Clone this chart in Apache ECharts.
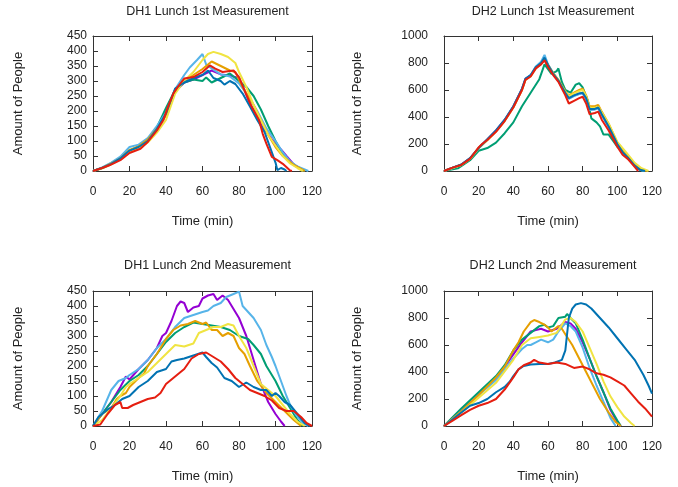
<!DOCTYPE html>
<html>
<head>
<meta charset="utf-8">
<script src="https://cdn.jsdelivr.net/npm/echarts@6/dist/echarts.min.js"></script>
<style>
  html, body { margin: 0; padding: 0; background: #fff; }
  #chart { width: 678px; height: 487px; }
</style>
</head>
<body>
<div id="chart"></div>
<script>
// 4 panels: DH1/DH2 lunch, 1st/2nd measurement. each series = [time (min), people]
const titles = ['DH1 Lunch 1st Measurement', 'DH2 Lunch 1st Measurement',
                'DH1 Lunch 2nd Measurement', 'DH2 Lunch 2nd Measurement'];
const xTicks = [0, 20, 40, 60, 80, 100, 120];
const yMaxes = [450, 1000, 450, 1000];
const yIntervals = [50, 200, 50, 200];

// gnuplot-ish palette, drawing order
const seriesNames = ['purple', 'green', 'lightblue', 'orange', 'yellow', 'darkblue', 'red'];
const colors = ['#9400D3', '#009E73', '#56B4E9', '#E69F00', '#F0E442', '#0072B2', '#E51E10'];

// --- DH1 Lunch 1st ---
const dh1a_purple = [[0,0],[5,10],[10,25],[15,42],[20,65],[25,80],[30,102],[35,140],[40,188],[45,265],[50,295],[55,305],[60,320],[65,335],[70,322],[75,318],[80,310],[83,270],[86,225],[90,180],[95,130],[100,90],[103,72],[106,50],[110,22],[114,6],[116,0]];
const dh1a_green = [[0,0],[5,10],[10,26],[15,44],[20,68],[25,82],[30,104],[35,145],[40,210],[45,270],[50,295],[55,305],[60,300],[62,312],[65,295],[70,310],[75,325],[80,300],[84,280],[88,250],[92,205],[96,150],[100,100],[104,55],[108,30],[114,5],[116,0]];
const dh1a_lightblue = [[0,0],[5,12],[10,28],[15,48],[20,80],[25,88],[30,110],[35,150],[40,195],[45,272],[50,320],[53,345],[57,370],[60,390],[62,355],[65,342],[70,322],[75,315],[80,292],[85,250],[90,200],[95,142],[100,100],[104,62],[108,32],[112,15],[118,0]];
const dh1a_orange = [[0,0],[5,10],[10,25],[15,42],[20,70],[25,82],[30,105],[35,140],[40,185],[45,268],[50,300],[55,320],[60,340],[65,365],[70,350],[75,335],[78,330],[82,280],[88,220],[92,170],[96,120],[100,80],[104,50],[110,20],[116,0]];
const dh1a_yellow = [[0,0],[5,8],[10,22],[15,40],[20,62],[25,75],[30,95],[35,128],[40,170],[45,258],[50,300],[55,330],[60,370],[63,390],[66,397],[70,390],[74,380],[78,360],[80,330],[84,280],[88,220],[92,170],[96,120],[100,85],[104,50],[108,25],[112,10],[115,0]];
const dh1a_darkblue = [[0,0],[5,10],[10,24],[15,42],[20,68],[25,80],[30,100],[35,140],[40,192],[45,275],[50,295],[55,310],[60,320],[63,335],[66,310],[70,300],[72,288],[75,300],[78,290],[82,258],[86,215],[90,170],[94,130],[98,62],[100,28],[101,3],[103,10],[105,5],[106,0]];
const dh1a_red = [[0,0],[5,10],[9,19],[15,36],[20,60],[26,74],[30,97],[35,135],[38.5,169],[41,213],[44,258],[47,285],[50,308],[55,313],[60,330],[64,352],[67,341],[71,330],[77,335],[80,313],[83,269],[87,213],[91,169],[93,124],[95,91],[98,47],[101,36],[104,24],[108,2],[109,0]];

// --- DH2 Lunch 1st ---
const dh2a_purple = [[0,0],[5,24],[10,47],[15,94],[20,170],[25,234],[30,300],[35,378],[40,478],[45,608],[47,682],[50,708],[53,768],[56,798],[58,835],[60,782],[63,718],[66,668],[70,578],[72,538],[75,558],[78,572],[80,578],[82,538],[84,458],[87,458],[89,468],[91,418],[95,328],[100,198],[103,138],[106,98],[110,40],[113,10],[116,0]];
const dh2a_green = [[0,0],[8,20],[15,80],[20,150],[25,170],[30,210],[35,280],[40,360],[45,480],[50,580],[55,680],[58,790],[62,720],[65,740],[66,760],[68,660],[70,600],[73,580],[76,640],[78,650],[80,620],[83,520],[85,390],[88,360],[90,330],[92,270],[95,270],[100,180],[105,120],[110,50],[113,10],[115,0]];
const dh2a_lightblue = [[0,0],[5,22],[10,46],[15,92],[20,168],[25,232],[30,298],[35,375],[40,475],[45,605],[47,680],[50,710],[53,775],[56,810],[58,860],[60,790],[63,725],[66,670],[70,575],[72,535],[75,555],[78,570],[80,575],[82,530],[84,450],[87,455],[89,465],[91,415],[95,325],[100,195],[103,135],[106,100],[110,40],[114,5],[116,0]];
const dh2a_orange = [[0,0],[5,24],[10,46],[15,92],[20,172],[25,232],[30,296],[35,374],[40,474],[45,602],[47,678],[50,705],[53,765],[56,795],[58,830],[60,785],[63,725],[66,675],[70,590],[72,560],[75,580],[78,600],[80,610],[82,560],[84,480],[87,480],[89,490],[91,440],[95,350],[100,210],[105,130],[110,50],[114,10],[117,0]];
const dh2a_yellow = [[0,0],[5,22],[10,44],[15,90],[20,168],[25,228],[30,292],[35,370],[40,470],[45,600],[47,675],[50,702],[53,762],[56,792],[58,825],[60,780],[63,722],[66,672],[70,585],[72,555],[75,575],[78,592],[80,600],[82,555],[84,470],[87,468],[89,475],[91,435],[95,350],[100,215],[105,140],[110,60],[114,20],[118,0]];
const dh2a_darkblue = [[0,0],[5,25],[10,48],[15,95],[20,170],[25,235],[30,300],[35,380],[40,480],[45,610],[47,685],[50,710],[53,770],[56,800],[58,840],[60,785],[63,720],[66,670],[70,580],[72,540],[75,560],[78,575],[80,580],[82,540],[84,460],[87,460],[89,470],[91,420],[95,330],[100,200],[103,140],[106,100],[110,40],[113,10],[116,0]];
const dh2a_red = [[0,0],[5,25],[10,45],[15,90],[20,175],[22,200],[25,230],[30,290],[35,370],[40,470],[45,600],[47,675],[50,700],[53,760],[56,790],[58,820],[60,770],[63,710],[66,660],[70,560],[72,500],[75,520],[78,540],[80,550],[82,500],[84,420],[87,430],[89,440],[91,380],[95,300],[100,180],[103,120],[106,90],[110,30],[112,0]];

// --- DH1 Lunch 2nd ---
const dh1b_purple = [[0,0],[5,40],[10,80],[15,130],[18,165],[20,155],[25,190],[30,220],[35,260],[38,300],[40,310],[43,350],[46,400],[48,415],[50,410],[52,380],[55,395],[58,400],[60,425],[63,435],[66,440],[68,420],[71,435],[74,420],[77,390],[80,360],[84,300],[88,220],[92,140],[96,80],[100,40],[103,15],[105,0]];
const dh1b_green = [[0,0],[5,40],[10,80],[15,120],[20,150],[25,170],[30,200],[35,240],[40,280],[45,310],[50,330],[55,345],[60,340],[65,335],[70,330],[75,320],[80,300],[85,290],[88,270],[92,240],[95,200],[100,150],[104,100],[108,60],[112,20],[115,0]];
const dh1b_lightblue = [[0,0],[5,50],[10,120],[14,150],[18,160],[20,170],[25,190],[30,220],[35,260],[40,290],[45,330],[50,360],[55,370],[60,380],[63,385],[66,400],[70,410],[73,430],[77,440],[80,448],[82,400],[85,380],[88,360],[92,320],[95,270],[98,230],[100,200],[103,150],[106,100],[108,70],[111,40],[115,10],[118,0]];
const dh1b_orange = [[0,0],[5,40],[10,60],[13,90],[15,100],[18,110],[20,130],[25,160],[28,175],[30,200],[35,240],[40,290],[44,320],[48,335],[52,340],[56,350],[60,340],[62,345],[65,320],[68,320],[71,300],[74,310],[77,300],[80,260],[83,240],[86,200],[90,150],[95,110],[100,80],[105,50],[110,20],[114,0]];
const dh1b_yellow = [[0,0],[5,20],[10,60],[15,100],[18,130],[20,140],[25,160],[30,180],[35,210],[40,240],[45,270],[50,265],[55,275],[58,310],[62,320],[66,330],[70,330],[74,340],[77,335],[80,300],[84,260],[88,200],[92,140],[96,120],[100,100],[104,70],[108,40],[112,15],[116,0]];
const dh1b_darkblue = [[0,0],[3,30],[8,55],[12,70],[16,90],[20,100],[25,130],[30,150],[35,180],[40,190],[43,215],[46,220],[50,225],[55,235],[60,245],[62,230],[65,210],[68,195],[72,160],[76,150],[80,130],[84,145],[88,130],[92,120],[95,120],[98,100],[100,110],[102,100],[105,80],[108,70],[112,40],[116,10],[119,0]];
const dh1b_red = [[0,0],[4,5],[8,40],[12,70],[15,80],[16,60],[19,60],[22,70],[26,80],[30,90],[34,95],[37,110],[40,140],[44,160],[48,180],[50,190],[54,225],[58,240],[62,245],[66,230],[70,215],[74,190],[78,160],[82,140],[86,120],[90,110],[94,100],[98,85],[102,60],[106,50],[110,50],[114,30],[117,10],[120,0]];

// --- DH2 Lunch 2nd ---
const dh2b_purple = [[0,0],[10,120],[20,240],[30,350],[40,530],[45,620],[50,700],[53,710],[56,720],[60,700],[65,720],[70,770],[73,760],[76,720],[80,620],[84,500],[88,370],[92,250],[96,120],[100,30],[102,0]];
const dh2b_green = [[0,0],[10,130],[20,250],[30,370],[35,450],[40,560],[45,640],[50,690],[55,740],[58,750],[60,730],[63,740],[66,800],[70,810],[71,830],[73,800],[76,760],[80,640],[84,500],[88,370],[92,250],[96,130],[100,40],[102,0]];
const dh2b_lightblue = [[0,0],[10,110],[20,230],[30,340],[40,500],[45,570],[48,600],[50,600],[53,620],[56,640],[60,620],[63,640],[66,700],[70,760],[73,740],[76,700],[80,580],[84,430],[88,300],[92,180],[96,60],[99,0]];
const dh2b_orange = [[0,0],[10,110],[20,230],[30,360],[35,440],[40,560],[43,620],[46,700],[50,770],[52,785],[55,770],[58,750],[60,730],[62,700],[64,720],[66,740],[68,720],[70,680],[74,600],[78,500],[82,400],[86,300],[90,200],[95,100],[99,30],[102,0]];
const dh2b_yellow = [[0,0],[10,100],[20,210],[30,320],[40,490],[45,600],[50,650],[55,660],[60,670],[65,690],[70,790],[73,800],[76,770],[80,700],[84,580],[88,460],[92,330],[96,220],[100,140],[104,70],[108,20],[110,0]];
const dh2b_darkblue = [[0,0],[5,50],[10,100],[15,150],[20,170],[25,200],[30,250],[35,290],[38,330],[40,370],[43,420],[46,445],[50,455],[55,460],[60,460],[64,470],[68,490],[70,560],[72,800],[74,870],[76,900],[79,910],[82,900],[85,870],[90,800],[95,730],[100,650],[105,570],[110,490],[115,380],[118,300],[120,240]];
const dh2b_red = [[0,0],[5,40],[10,80],[15,120],[20,150],[25,170],[30,200],[35,270],[40,360],[43,420],[46,450],[50,470],[52,490],[55,470],[60,460],[65,470],[70,460],[75,430],[80,440],[84,420],[88,390],[92,380],[96,360],[100,330],[104,300],[108,240],[112,180],[116,130],[120,70]];

const panels = [
  [dh1a_purple, dh1a_green, dh1a_lightblue, dh1a_orange, dh1a_yellow, dh1a_darkblue, dh1a_red],
  [dh2a_purple, dh2a_green, dh2a_lightblue, dh2a_orange, dh2a_yellow, dh2a_darkblue, dh2a_red],
  [dh1b_purple, dh1b_green, dh1b_lightblue, dh1b_orange, dh1b_yellow, dh1b_darkblue, dh1b_red],
  [dh2b_purple, dh2b_green, dh2b_lightblue, dh2b_orange, dh2b_yellow, dh2b_darkblue, dh2b_red],
];

// layout (px)
const grids = [
  { left: 93, top: 36, width: 219, height: 135 },
  { left: 444, top: 36, width: 208, height: 135 },
  { left: 93, top: 291, width: 219, height: 135 },
  { left: 444, top: 291, width: 208, height: 135 },
];
const yLabelMargin = [6, 16, 6, 16];
const yNameGap = [68, 80, 68, 80];

const FONT = 'Liberation Sans, Arial, sans-serif';
const AX = '#333';

const chart = echarts.init(document.getElementById('chart'), null, { renderer: 'canvas' });

const xAxis = [], yAxis = [], series = [], title = [];
grids.forEach((g, i) => {
  title.push({
    text: titles[i],
    left: g.left + g.width / 2,
    top: i < 2 ? 0 : 254,
    textAlign: 'center',
    textStyle: { fontFamily: FONT, fontSize: 12.5, fontWeight: 'normal', color: '#222' },
  });
  // onZero off, otherwise mirror axes collapse onto the zero line
  const xBase = {
    gridIndex: i, type: 'value', min: 0, max: 120, interval: 20,
    axisLine: { show: true, onZero: false, lineStyle: { color: AX, width: 1 } },
    axisTick: { show: true, inside: true, length: 5, lineStyle: { color: AX } },
    splitLine: { show: false },
  };
  xAxis.push({
    ...xBase, position: 'bottom',
    axisLabel: { margin: 15, fontFamily: FONT, fontSize: 12, color: '#222',
                 formatter: v => xTicks.includes(v) ? String(v) : '' },
    name: 'Time (min)', nameLocation: 'middle', nameGap: 44,
    nameTextStyle: { fontFamily: FONT, fontSize: 13, color: '#222' },
  });
  xAxis.push({ ...xBase, position: 'top', axisLabel: { show: false } });
  const yBase = {
    gridIndex: i, type: 'value', min: 0, max: yMaxes[i], interval: yIntervals[i],
    axisLine: { show: true, onZero: false, lineStyle: { color: AX, width: 1 } },
    axisTick: { show: true, inside: true, length: 5, lineStyle: { color: AX } },
    splitLine: { show: false },
  };
  yAxis.push({
    ...yBase, position: 'left',
    axisLabel: { margin: yLabelMargin[i], fontFamily: FONT, fontSize: 12, color: '#222',
                 formatter: v => String(v) },
    name: 'Amount of People', nameLocation: 'middle', nameGap: yNameGap[i],
    nameTextStyle: { fontFamily: FONT, fontSize: 13, color: '#222' },
  });
  yAxis.push({ ...yBase, position: 'right', axisLabel: { show: false } });

  panels[i].forEach((data, k) => {
    series.push({
      name: seriesNames[k],
      type: 'line',
      xAxisIndex: 2 * i,
      yAxisIndex: 2 * i,
      data: data,
      showSymbol: false,
      symbol: 'none',
      z: 2 + k,
      lineStyle: { color: colors[k], width: 2 },
      itemStyle: { color: colors[k] },
    });
  });
});

chart.setOption({
  animation: false,
  backgroundColor: '#fff',
  title,
  grid: grids.map(g => ({ ...g, show: false })),
  xAxis,
  yAxis,
  series,
});
</script>
</body>
</html>
